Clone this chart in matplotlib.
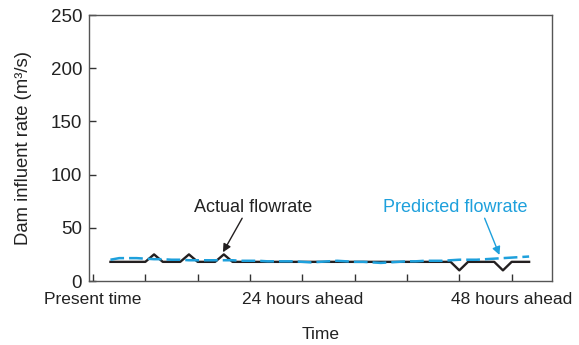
import numpy as np
import matplotlib.pyplot as plt

plt.rcParams['font.family'] = ['Liberation Sans', 'DejaVu Sans']

# hours from present time
hours = np.arange(2, 51)

actual = [18, 18, 18, 18, 18, 25, 18, 18, 18, 25, 18, 18, 18, 25, 18,
          18, 18, 18, 18, 18, 18, 18, 18, 18, 18, 18, 18, 18, 18, 18,
          18, 18, 18, 18, 18, 18, 18, 18, 18, 18, 10, 18, 18, 18, 18,
          10, 18, 18, 18]

predicted = [20, 21.5, 21.5, 21.5, 21, 20.5, 20.5, 20, 20, 19.5, 19.5,
             19.5, 19.5, 19.5, 19.5, 19, 19, 19, 18.5, 18.5, 18.5, 18.5,
             18, 17.5, 18, 18.5, 19, 18.5, 18, 18, 17.5, 17, 17.5, 18,
             18.5, 18.5, 19, 19, 19, 19.5, 20, 20, 20, 20.5, 21, 21.5,
             22, 22.5, 23]

tick_pos = [0, 6, 12, 18, 24, 30, 36, 42, 48]
tick_lab = ['Present time', '', '', '', '24 hours ahead', '', '', '', '48 hours ahead']

blue = '#1ea0dc'
dark = '#231f20'

fig = plt.figure(figsize=(5.79, 3.45), dpi=100)
ax = fig.add_axes([0.1537, 0.1855, 0.7993, 0.771])

ax.plot(hours, actual, color=dark, lw=1.7, zorder=2)
ax.plot(hours, predicted, color=blue, lw=1.8, dashes=(5.5, 2), zorder=3)

ax.set_xlim(-0.46, 52.6)
ax.set_ylim(0, 250)
ax.set_yticks([0, 50, 100, 150, 200, 250])
ax.set_xticks(tick_pos)
ax.set_xticklabels(tick_lab)

ax.tick_params(direction='in', length=5, width=1, colors='#333333',
               labelcolor='#222222', labelsize=12.5)
ax.tick_params(axis='y', pad=5, labelsize=13.5)
ax.tick_params(axis='x', pad=8)
for s in ax.spines.values():
    s.set_color('#555555')
    s.set_linewidth(1)

ax.set_ylabel('Dam influent rate (m\u00b3/s)', fontsize=13.3, color='#222222', labelpad=13)
ax.set_xlabel('Time', fontsize=12.5, color='#222222', labelpad=14)

ax.text(18.4, 69.5, 'Actual flowrate', ha='center', va='center',
        fontsize=13, color='#222222')
ax.text(41.5, 69.5, 'Predicted flowrate', ha='center', va='center',
        fontsize=13, color=blue)
ax.annotate('', xy=(14.9, 27), xytext=(17.1, 59),
            arrowprops=dict(arrowstyle='-|>', color=dark, lw=1,
                            mutation_scale=12, shrinkA=0, shrinkB=0))
ax.annotate('', xy=(46.6, 24.5), xytext=(44.9, 59),
            arrowprops=dict(arrowstyle='-|>', color=blue, lw=1,
                            mutation_scale=12, shrinkA=0, shrinkB=0))

fig.savefig('out.png', dpi=100)
